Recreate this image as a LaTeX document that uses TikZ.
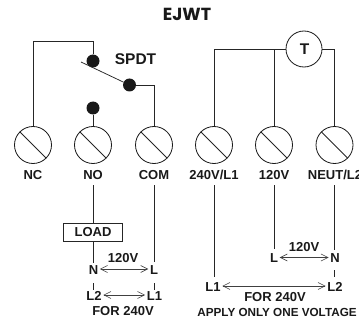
\documentclass[tikz,border=0pt]{standalone}
\usepackage{fontspec}
\setmainfont{Liberation Sans}
\newfontfamily\titlefont{Poppins}
\usetikzlibrary{arrows.meta,calc}
\tikzset{
  wire/.style={draw=black!85,line width=0.75pt},
  term/.style={circle,draw=black!90,line width=0.8pt,minimum size=37pt,inner sep=0pt},
  dotc/.style={circle,fill=black!90,minimum size=13pt,inner sep=0pt},
  lbl/.style={inner sep=0pt,font=\bfseries\fontsize{13}{14}\selectfont,text=black!90},
  lbls/.style={inner sep=0pt,font=\bfseries\fontsize{11.7}{13}\selectfont,text=black!90},
  lblb/.style={inner sep=0pt,font=\bfseries\fontsize{15.5}{17}\selectfont,text=black!90},
  dbl/.style={draw=black!75,line width=0.6pt,{Straight Barb[length=7pt,width=7pt]}-{Straight Barb[length=7pt,width=7pt]}},
}
\begin{document}
\begin{tikzpicture}[x=1pt,y=-1pt]
\useasboundingbox (0,0) rectangle (359,321);
\clip (0,0) rectangle (359,321);
\node[inner sep=0pt,font=\titlefont\bfseries\fontsize{17.5}{19}\selectfont,text=black!90] (title) at (187,14) {EJWT};
% terminals
\foreach \n/\x in {nc/33,no/93,com/154,la/214,lb/274,lc/334.5}{
  \node[term] (\n) at (\x,145) {};
  \draw[wire] (\n.135) -- (\n.-45);
}
\node[lbl] (tnc) at (33,175) {NC};
\node[lbl] (tno) at (93,175) {NO};
\node[lbl] (tcom) at (154,175) {COM};
\node[lbl] (tla) at (214,175) {240V/L1};
\node[lbl] (tlb) at (274,175) {120V};
\node[lbl] (tlc) at (335,175) {NEUT/L2};
% switch
\node[dotc] (c1) at (93,61) {};
\node[dotc] (c2) at (129.5,85) {};
\node[dotc] (c3) at (93,108) {};
\coordinate (blade) at (81,62);
\node[lblb] (spdt) at (135.5,59.5) {SPDT};
\coordinate (k1) at (33,41);
\coordinate (k2) at (93,41);
\coordinate (k3) at (154,85);
\draw[wire] (nc.north) -- (k1) -- (k2) -- (c1);
\draw[wire] (blade) -- (c2);
\draw[wire] (c2) -- (k3) -- (com.north);
\draw[wire] (c3) -- (no.north);
% timer
\node[term,minimum size=36pt] (T) at (304,49) {};
\node[lblb] (Tt) at (304.5,49.5) {T};
\coordinate (k4) at (214,49);
\coordinate (k5) at (274,49);
\coordinate (k6) at (334.5,49);
\draw[wire] (la.north) -- (k4) -- (T.west);
\draw[wire] (lb.north) -- (k5);
\draw[wire] (T.east) -- (k6) -- (lc.north);
% load side
\node[draw=black!85,line width=0.75pt,minimum width=59pt,minimum height=18.5pt,inner sep=0pt,lbl] (load) at (93,232.3) {LOAD};
\node[lbl] (N1) at (93.5,270) {N};
\node[lbl] (L1a) at (154,270) {L};
\node[lbl] (L2a) at (94,296) {L2};
\node[lbl] (L1b) at (154.5,296) {L1};
\node[lbl] (v1) at (123,258) {120V};
\node[lbl] (f1) at (123,311) {FOR 240V};
\coordinate (s1) at (93,185);
\coordinate (s2) at (154,185);
\coordinate (s3) at (93,263);
\coordinate (s4) at (154,262);
\coordinate (s5) at (93,283);
\coordinate (s6) at (93,290);
\coordinate (s7) at (154,283);
\coordinate (s8) at (154,290);
\draw[wire] (s1) -- (load.north);
\draw[wire] (load.south) -- (s3);
\draw[wire] (s2) -- (s4);
\draw[wire] (s5) -- (s6);
\draw[wire] (s7) -- (s8);
\draw[dbl] ($(N1.east)+(1.5,-1)$) -- ($(L1a.west)+(-1.5,-1)$);
\draw[dbl] ($(L2a.east)+(1.5,-1)$) -- ($(L1b.west)+(-1.5,-1)$);
% line side
\node[lbl] (L1c) at (213,287) {L1};
\node[lbl] (L2c) at (335,287) {L2};
\node[lbl] (Nc) at (335,258.5) {N};
\node[lbl] (Lc) at (274,258.5) {L};
\node[lbl] (v2) at (304,247) {120V};
\node[lbl] (f2) at (275,297) {FOR 240V};
\node[lbls] (apply) at (277,312) {APPLY ONLY ONE VOLTAGE};
\coordinate (r1) at (214,185);
\coordinate (r2) at (214,277);
\coordinate (r3) at (274,185);
\coordinate (r4) at (274,249);
\coordinate (r5) at (334.5,185);
\coordinate (r6) at (334.5,250);
\coordinate (r7) at (334.5,270);
\coordinate (r8) at (334.5,277);
\draw[wire] (r1) -- (r2);
\draw[wire] (r3) -- (r4);
\draw[wire] (r5) -- (r6);
\draw[wire] (r7) -- (r8);
\draw[dbl] ($(L1c.east)+(1.5,-1)$) -- ($(L2c.west)+(-1.5,-1)$);
\draw[dbl] ($(Lc.east)+(1.5,-1)$) -- ($(Nc.west)+(-1.5,-1)$);
\end{tikzpicture}
\end{document}
